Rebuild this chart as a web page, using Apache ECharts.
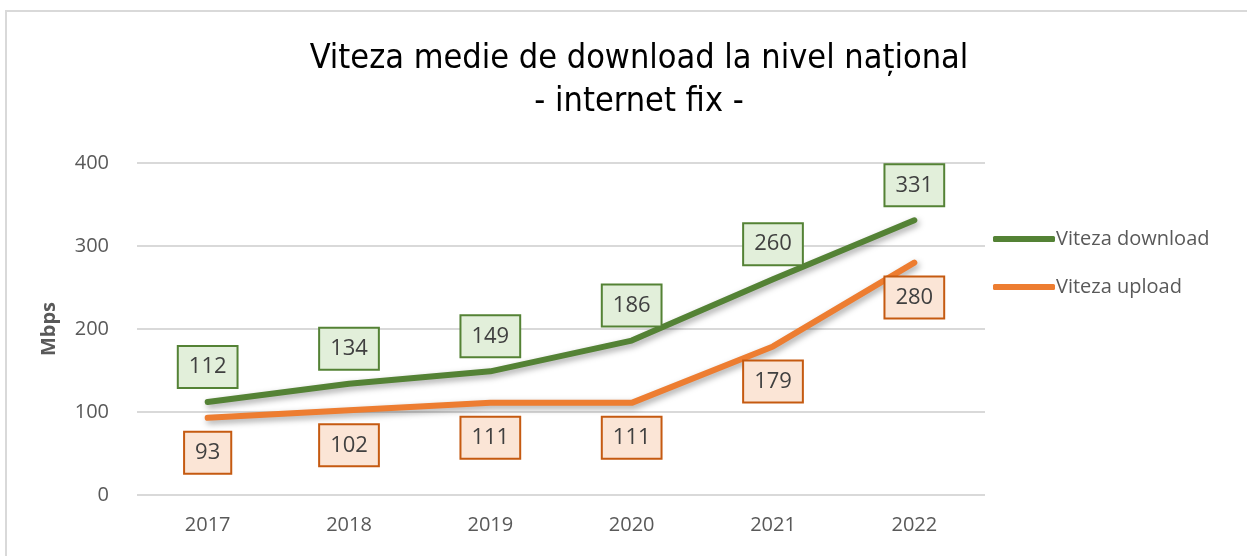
<!DOCTYPE html>
<html>
<head>
<meta charset="utf-8">
<script src="https://cdn.jsdelivr.net/npm/echarts@6/dist/echarts.min.js"></script>
<style>
  html, body { margin: 0; padding: 0; background: #fff; }
  #frame { position: absolute; left: 5px; top: 10px; width: 1260px; height: 560px;
           border-top: 2px solid #d9d9d9; border-left: 2px solid #d9d9d9; }
  #chart { position: absolute; left: 0; top: 0; width: 1247px; height: 556px; }
</style>
</head>
<body>
<div id="frame"></div>
<div id="chart"></div>
<script>
var years = ['2017', '2018', '2019', '2020', '2021', '2022'];
var download = [112, 134, 149, 186, 260, 331];
var upload = [93, 102, 111, 111, 179, 280];
var yTicks = [0, 100, 200, 300, 400];

var chart = echarts.init(document.getElementById('chart'));

function labelStyle(pos, border, fill) {
    return {
        show: true,
        position: pos,
        distance: 15,
        fontSize: 22,
        lineHeight: 28,
        fontFamily: 'Open Sans',
        color: '#404040',
        backgroundColor: fill,
        borderColor: border,
        borderWidth: 2,
        padding: [6, 10, 6, 10]
    };
}

var option = {
    animation: false,
    title: {
        text: 'Viteza medie de download la nivel național\n- internet fix -',
        left: 634,
        textAlign: 'center',
        top: 33,
        textStyle: {
            fontFamily: 'DejaVu Sans Condensed',
            fontWeight: 'normal',
            fontSize: 34,
            lineHeight: 43,
            color: '#000'
        }
    },
    legend: {
        orient: 'vertical',
        left: 988,
        top: 224,
        itemGap: 28,
        itemWidth: 62,
        itemHeight: 6,
        icon: 'roundRect',
        textStyle: { fontFamily: 'Open Sans', fontSize: 20, color: '#595959', padding: [0, 0, 0, -4] },
        data: ['Viteza download', 'Viteza upload']
    },
    grid: { left: 137, right: 262, top: 163, bottom: 61 },
    xAxis: {
        type: 'category',
        data: years,
        boundaryGap: true,
        axisLine: { show: false },
        axisTick: { show: false },
        axisLabel: { fontFamily: 'Open Sans', fontSize: 20, color: '#595959', margin: 20 }
    },
    yAxis: {
        type: 'value',
        min: yTicks[0],
        max: yTicks[yTicks.length - 1],
        interval: 100,
        name: 'Mbps',
        nameLocation: 'middle',
        nameGap: 78,
        nameRotate: 90,
        nameTextStyle: { fontFamily: 'Open Sans', fontSize: 20, fontWeight: 'bold', color: '#595959' },
        axisLabel: { fontFamily: 'Open Sans', fontSize: 20, color: '#595959', margin: 28 },
        splitLine: { lineStyle: { color: '#d9d9d9', width: 2 } }
    },
    series: [{
        name: 'Viteza download',
        type: 'line',
        data: download,
        symbol: 'circle',
        symbolSize: 0,
        showSymbol: true,
        color: '#548235',
        lineStyle: { width: 6, color: '#548235', cap: 'round', join: 'round',
                     shadowColor: 'rgba(0,0,0,0.35)', shadowBlur: 6, shadowOffsetX: 2, shadowOffsetY: 3 },
        label: labelStyle('top', '#548235', '#e2efda')
    }, {
        name: 'Viteza upload',
        type: 'line',
        data: upload,
        symbol: 'circle',
        symbolSize: 0,
        showSymbol: true,
        color: '#ed7d31',
        lineStyle: { width: 6, color: '#ed7d31', cap: 'round', join: 'round',
                     shadowColor: 'rgba(0,0,0,0.35)', shadowBlur: 6, shadowOffsetX: 2, shadowOffsetY: 3 },
        label: labelStyle('bottom', '#c55a11', '#fbe5d6')
    }]
};
chart.setOption(option);
</script>
</body>
</html>
